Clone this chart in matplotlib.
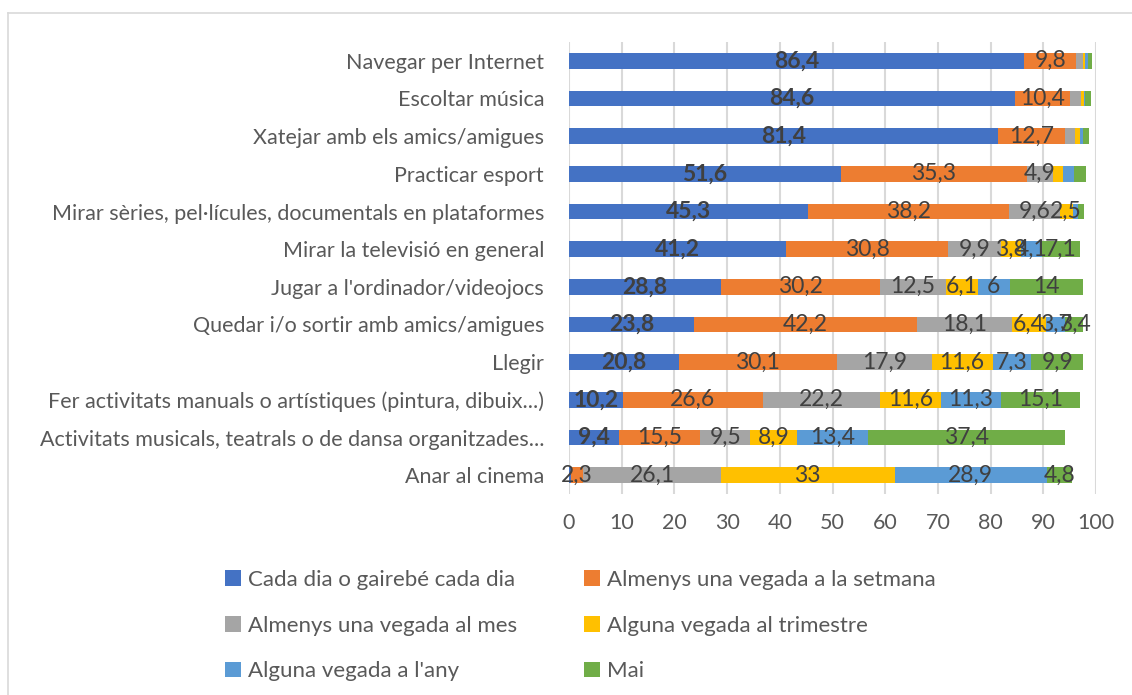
import matplotlib
matplotlib.use("Agg")
import matplotlib.pyplot as plt
import matplotlib.patheffects as pe
from matplotlib import font_manager as fm
import numpy as np
from matplotlib.patches import Patch
from matplotlib.lines import Line2D

plt.rcParams['font.family'] = ['Lato', 'DejaVu Sans']

activitats = [
    "Navegar per Internet",
    "Escoltar música",
    "Xatejar amb els amics/amigues",
    "Practicar esport",
    "Mirar sèries, pel·lícules, documentals en plataformes",
    "Mirar la televisió en general",
    "Jugar a l'ordinador/videojocs",
    "Quedar i/o sortir amb amics/amigues",
    "Llegir",
    "Fer activitats manuals o artístiques (pintura, dibuix...)",
    "Activitats musicals, teatrals o de dansa organitzades...",
    "Anar al cinema",
]

series = [
    "Cada dia o gairebé cada dia",
    "Almenys una vegada a la setmana",
    "Almenys una vegada al mes",
    "Alguna vegada al trimestre",
    "Alguna vegada a l'any",
    "Mai",
]

cada_dia  = [86.4, 84.6, 81.4, 51.6, 45.3, 41.2, 28.8, 23.8, 20.8, 10.2, 9.4, 0.4]
setmana   = [9.8, 10.4, 12.7, 35.3, 38.2, 30.8, 30.2, 42.2, 30.1, 26.6, 15.5, 2.3]
mes       = [1.3, 2.1, 1.9, 4.9, 9.6, 9.9, 12.5, 18.1, 17.9, 22.2, 9.5, 26.1]
trimestre = [0.4, 0.6, 0.9, 2.0, 2.5, 3.8, 6.1, 6.4, 11.6, 11.6, 8.9, 33.0]
any_      = [0.5, 0.3, 0.6, 2.1, 1.0, 4.1, 6.0, 3.7, 7.3, 11.3, 13.4, 28.9]
mai       = [0.9, 1.1, 1.1, 2.2, 1.2, 7.1, 14.0, 3.4, 9.9, 15.1, 37.4, 4.8]

valors = [cada_dia, setmana, mes, trimestre, any_, mai]
colors = ['#4472C4', '#ED7D31', '#A5A5A5', '#FFC000', '#5B9BD5', '#70AD47']

# bold for the first series; fake it with a stroke if Lato Bold is missing
bold_file = fm.findfont(fm.FontProperties(family='Lato', weight='bold'))
bold_ok = 'bold' in bold_file.lower() or 'black' in bold_file.lower()
bold_fx = [] if bold_ok else [pe.withStroke(linewidth=1.1, foreground='#404040')]

fig = plt.figure(figsize=(11.32, 6.95), dpi=100)
ax = fig.add_axes([569 / 1132, 1 - 494 / 695, 527 / 1132, 452 / 695])

y = np.arange(len(activitats))
esquerra = np.zeros(len(activitats))
for i, (vals, color) in enumerate(zip(valors, colors)):
    vals = np.array(vals)
    ax.barh(y, vals, left=esquerra, height=0.42, color=color, zorder=2)
    for yi, v, l in zip(y, vals, esquerra):
        if v >= 2.25:
            text = f"{v:g}".replace('.', ',')
            t = ax.text(l + v / 2, yi, text, ha='center', va='center',
                        fontsize=16.5, color='#404040',
                        fontweight='bold' if i == 0 else 'normal', zorder=3)
            if i == 0:
                t.set_path_effects(bold_fx)
    esquerra += vals

ax.set_xlim(0, 100)
ax.set_ylim(len(activitats) - 0.5, -0.5)
ax.set_xticks(np.arange(0, 101, 10))
ax.set_yticks(y)
ax.set_yticklabels(activitats)
ax.tick_params(axis='both', length=0, labelcolor='#595959')
ax.tick_params(axis='y', pad=18, labelsize=15.5)
ax.tick_params(axis='x', pad=14, labelsize=15.5)
ax.xaxis.grid(True, color='#D9D9D9', linewidth=1.5, zorder=0)
for s in ax.spines.values():
    s.set_visible(False)

handles = [Patch(facecolor=c, edgecolor='none') for c in colors]
order = [0, 2, 4, 1, 3, 5]
fig.legend([handles[k] for k in order], [series[k] for k in order],
           ncol=2, loc='upper left', bbox_to_anchor=(205 / 1132, 1 - 550 / 695),
           frameon=False, fontsize=16, labelcolor='#595959',
           handlelength=0.7, handleheight=0.7, handletextpad=0.35,
           columnspacing=3.0, labelspacing=1.15)

# border of the chart area
fig.add_artist(Line2D([8 / 1132, 1], [1 - 13 / 695, 1 - 13 / 695], color='#D9D9D9', lw=1.2))
fig.add_artist(Line2D([8 / 1132, 8 / 1132], [0, 1 - 13 / 695], color='#D9D9D9', lw=1.2))

fig.savefig("out.png", dpi=100)
